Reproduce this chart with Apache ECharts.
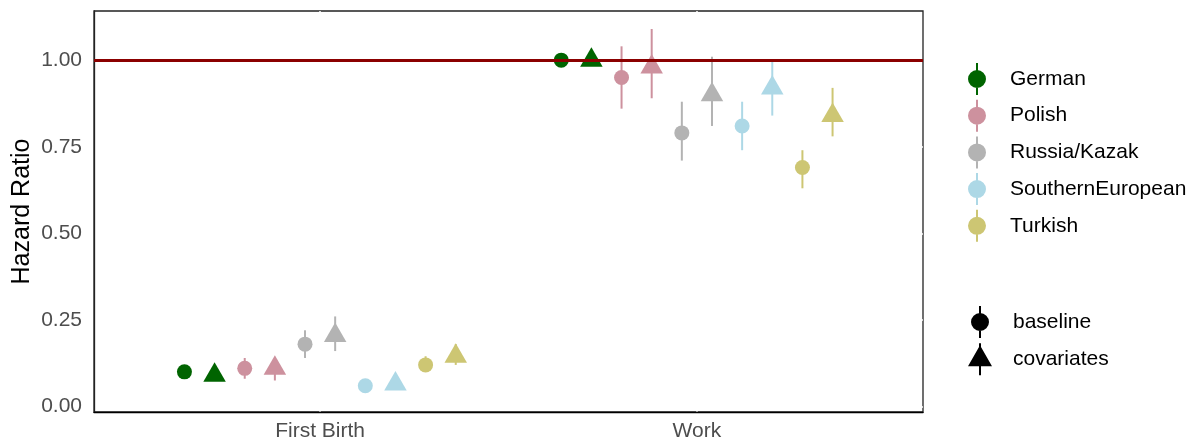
<!DOCTYPE html>
<html>
<head>
<meta charset="utf-8">
<script src="https://cdn.jsdelivr.net/npm/echarts@6/dist/echarts.min.js"></script>
<style>
  html, body { margin: 0; padding: 0; background: #fff; }
  #chart { width: 1200px; height: 444px; }
</style>
</head>
<body>
<div id="chart"></div>
<script>
// Outcomes on the x axis and the groups compared within each outcome
const categories = ['First Birth', 'Work'];
const countries = ['German', 'Polish', 'Russia/Kazak', 'SouthernEuropean', 'Turkish'];
const models = ['baseline', 'covariates'];
const countryColors = ['#006400', '#CD919E', '#B3B3B3', '#ADD8E6', '#CDC673'];

// Hazard ratios per country as [estimate, lower CI, upper CI]
const firstBirthBaseline = [
  [0.10, 0.09, 0.11],
  [0.11, 0.08, 0.14],
  [0.18, 0.14, 0.22],
  [0.06, 0.05, 0.07],
  [0.12, 0.10, 0.145]
];
const firstBirthCovariates = [
  [0.09, 0.08, 0.10],
  [0.11, 0.075, 0.14],
  [0.205, 0.16, 0.26],
  [0.065, 0.05, 0.08],
  [0.145, 0.12, 0.18]
];
const workBaseline = [
  [1.00, 0.99, 1.01],
  [0.95, 0.86, 1.04],
  [0.79, 0.71, 0.88],
  [0.81, 0.74, 0.88],
  [0.69, 0.63, 0.74]
];
const workCovariates = [
  [1.00, 0.99, 1.01],
  [0.98, 0.89, 1.09],
  [0.90, 0.81, 1.01],
  [0.92, 0.84, 0.995],
  [0.84, 0.78, 0.92]
];

const yTicks = [0, 0.25, 0.5, 0.75, 1.0];
const referenceRatio = 1;

// results[outcome][model] -> per-country triples
const results = [
  [firstBirthBaseline, firstBirthCovariates],
  [workBaseline, workCovariates]
];

// dodge: 10 slots (country x model) spread over 0.8 of a category
const dodgeWidth = 0.8;
const slots = countries.length * models.length;
const slotStep = dodgeWidth / slots;

function seriesData(ci) {
  const rows = [];
  categories.forEach((cat, k) => {
    models.forEach((m, mi) => {
      const [est, lo, hi] = results[k][mi][ci];
      const slot = ci * models.length + mi;
      const x = (k + 1) + (slot - (slots - 1) / 2) * slotStep;
      rows.push([x, est, lo, hi, mi]);
    });
  });
  return rows;
}

const CIRCLE_R = 7.5;
const TRI_R = 13; // centroid to apex

function renderPointRange(params, api) {
  const x = api.value(0);
  const c = api.coord([x, api.value(1)]);
  const cLo = api.coord([x, api.value(2)]);
  const cHi = api.coord([x, api.value(3)]);
  const color = api.visual('color');
  const children = [{
    type: 'line',
    shape: { x1: c[0], y1: cLo[1], x2: c[0], y2: cHi[1] },
    style: { stroke: color, lineWidth: 2 }
  }];
  if (api.value(4) === 0) {
    children.push({ type: 'circle', shape: { cx: c[0], cy: c[1], r: CIRCLE_R }, style: { fill: color } });
  } else {
    const hw = TRI_R * Math.sqrt(3) / 2;
    children.push({
      type: 'polygon',
      shape: { points: [[c[0], c[1] - TRI_R], [c[0] + hw, c[1] + TRI_R / 2], [c[0] - hw, c[1] + TRI_R / 2]] },
      style: { fill: color }
    });
  }
  return { type: 'group', children };
}

// legend keys: point with a vertical range line
const ICON_POINT = 'path://M11,0L13,0L13,8L11,8Z M11,24L13,24L13,32L11,32Z M3,16A9,9 0 1,1 21,16A9,9 0 1,1 3,16Z';
const ICON_TRIANGLE = 'path://M12,2L24,23L0,23Z M11,0L13,0L13,4L11,4Z M11,22L13,22L13,32L11,32Z';

const series = countries.map((name, ci) => ({
  name,
  type: 'custom',
  renderItem: renderPointRange,
  itemStyle: { color: countryColors[ci] },
  encode: { x: 0, y: 1 },
  data: seriesData(ci),
  z: 3
}));

models.forEach(m => series.push({
  name: m, type: 'scatter', data: [], itemStyle: { color: '#000', opacity: 1 }
}));

series.push({
  name: 'reference',
  type: 'line',
  data: [],
  z: 5,
  markLine: {
    silent: true,
    symbol: 'none',
    label: { show: false },
    lineStyle: { color: '#8B0000', width: 3, type: 'solid' },
    data: [{ yAxis: referenceRatio }]
  }
});

const FONT = 'Liberation Sans, Arial, sans-serif';

const legendCommon = {
  orient: 'vertical',
  left: 963,
  itemWidth: 24,
  itemHeight: 32,
  selectedMode: false,
  textStyle: { fontSize: 21, color: '#000', fontFamily: FONT, padding: [0, 0, 0, 16] }
};

const option = {
  animation: false,
  backgroundColor: '#fff',
  grid: {
    left: 94, right: 277, top: 11, bottom: 32,
    outerBoundsMode: 'none',
    containLabel: false,
    show: true, borderColor: '#222', borderWidth: 1.3, backgroundColor: '#fff'
  },
  xAxis: {
    type: 'value',
    min: 0.4, max: 2.6,
    axisLine: { show: true, onZero: false, lineStyle: { color: '#000', width: 1.3 } },
    axisTick: { show: false, customValues: [1, 2] },
    splitLine: { show: true, lineStyle: { color: '#fff', width: 1.5 } },
    axisLabel: {
      customValues: [1, 2],
      formatter: v => categories[Math.round(v) - 1],
      fontSize: 21, color: '#4D4D4D', fontFamily: FONT, margin: 9
    }
  },
  yAxis: {
    type: 'value',
    min: -0.016, max: 1.142,
    name: 'Hazard Ratio',
    nameLocation: 'middle',
    nameGap: 59,
    nameMoveOverlap: false,
    nameTextStyle: { fontSize: 25, color: '#000', fontFamily: FONT },
    axisLine: { show: true, onZero: false, lineStyle: { color: '#222', width: 1.3 } },
    axisTick: { show: false, customValues: yTicks },
    splitLine: { show: true, lineStyle: { color: '#fff', width: 1.5 } },
    axisLabel: {
      customValues: yTicks,
      formatter: v => v.toFixed(2),
      fontSize: 21, color: '#4D4D4D', fontFamily: FONT, margin: 12
    }
  },
  legend: [
    Object.assign({}, legendCommon, {
      top: 58, itemGap: 4.7,
      data: countries.map(n => ({ name: n, icon: ICON_POINT }))
    }),
    Object.assign({}, legendCommon, {
      top: 301, itemGap: 5.3,
      data: [{ name: models[0], icon: ICON_POINT }, { name: models[1], icon: ICON_TRIANGLE }]
    })
  ],
  series
};

const chart = echarts.init(document.getElementById('chart'), null, { renderer: 'canvas' });
chart.setOption(option);
</script>
</body>
</html>
